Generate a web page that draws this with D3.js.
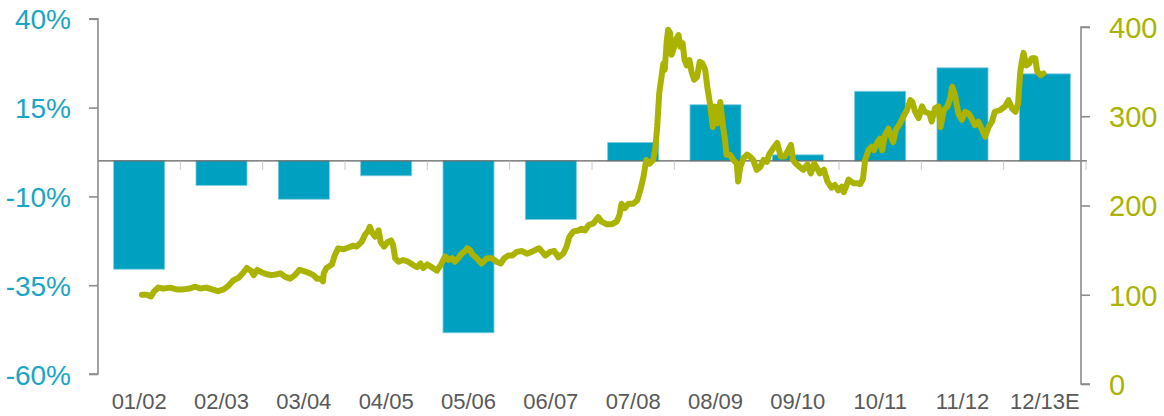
<!DOCTYPE html>
<html>
<head>
<meta charset="utf-8">
<script src="https://cdn.jsdelivr.net/npm/d3@7"></script>
<style>
  html, body { margin: 0; padding: 0; background: #ffffff; }
  svg { display: block; font-family: "Liberation Sans", Arial, sans-serif; }
</style>
</head>
<body>
<svg id="chart" width="1164" height="416"></svg>
<script>
// Fiscal years shown on the category axis
const categories = ["01/02", "02/03", "03/04", "04/05", "05/06", "06/07",
                    "07/08", "08/09", "09/10", "10/11", "11/12", "12/13E"];

// Annual change (%) per fiscal year — bars, left axis
const annualChange = [-30.5, -6.9, -10.8, -4.2, -48.4, -16.5,
                      5.2, 15.8, 1.7, 19.6, 26.2, 24.5];

// Index level (right axis): month offset from start of 01/02, index value
const indexMonths = [
  6.4, 7.1, 7.7, 8.2, 8.8, 9.5, 10.5, 11.5, 12.4, 13.4, 14.1, 14.9, 15.8, 16.6, 17.5, 18.3,
  19.0, 19.7, 20.5, 21.2, 21.7, 22.3, 22.7, 23.2, 23.9, 24.6, 25.3, 26.1, 26.6, 27.3, 28.0,
  28.7, 29.4, 30.2, 30.9, 31.4, 31.9, 32.5, 32.8, 32.9, 33.3, 34.1, 34.5, 35.0, 35.8, 36.5,
  37.2, 37.7, 38.4, 38.9, 39.4, 39.6, 40.0, 40.4, 40.9, 41.2, 41.7, 42.2, 42.7, 43.0, 43.3,
  43.8, 44.5, 45.2, 46.0, 46.5, 47.0, 47.4, 48.0, 48.6, 49.4, 50.0, 50.6, 51.1, 51.6, 52.0,
  52.5, 53.0, 53.5, 53.8, 54.2, 54.6, 55.2, 55.9, 56.7, 57.4, 58.1, 58.7, 59.2, 59.8, 60.4,
  61.0, 61.8, 62.5, 63.2, 63.7, 64.3, 65.2, 65.9, 66.5, 67.1, 67.8, 68.3, 68.7, 69.3, 70.0,
  70.5, 71.0, 71.5, 72.2, 72.9, 73.4, 74.1, 74.9, 75.6, 76.0, 76.3, 76.8, 77.3, 78.0, 78.6,
  79.1, 79.5, 79.9, 80.4, 80.9, 81.2, 81.5, 81.8, 82.2, 82.4, 82.6, 82.9, 83.1, 83.4, 83.6,
  84.0, 84.2, 84.6, 84.9, 85.2, 85.5, 85.8, 86.2, 86.5, 86.9, 87.3, 87.7, 88.1, 88.5, 88.8,
  89.2, 89.6, 89.9, 90.3, 90.7, 91.1, 91.4, 91.6, 92.1, 92.6, 93.1, 93.3, 93.6, 94.1, 94.6,
  95.0, 95.5, 96.0, 96.5, 97.0, 97.5, 97.8, 98.4, 99.0, 99.5, 100.1, 100.6, 101.0, 101.3,
  101.7, 102.3, 102.8, 103.4, 103.9, 104.4, 104.8, 105.2, 105.8, 106.3, 106.9, 107.4, 107.9,
  108.4, 108.7, 109.4, 110.1, 110.6, 111.1, 111.5, 111.8, 112.3, 112.8, 113.1, 113.6, 114.0,
  114.3, 114.7, 115.2, 115.5, 115.9, 116.3, 116.9, 117.4, 117.9, 118.4, 118.7, 119.1, 119.6,
  120.1, 120.5, 121.2, 121.5, 122.0, 122.5, 122.8, 123.3, 123.8, 124.2, 124.5, 124.9, 125.4,
  125.9, 126.4, 126.9, 127.3, 127.8, 128.3, 128.8, 129.3, 129.8, 130.3, 130.7, 131.5, 132.2,
  132.7, 133.2, 133.7, 134.1, 134.4, 134.6, 134.9, 135.3, 135.7, 136.1, 136.6, 136.9, 137.4,
  137.8
];
const indexValues = [
  100, 100, 98, 104, 108, 107, 108, 106, 106, 107, 109, 107, 108, 106, 104, 106,
  110, 116, 119, 125, 130, 127, 122, 128, 125, 123, 122, 123, 124, 120, 118,
  122, 128, 126, 124, 122, 118, 118, 115, 124, 130, 134, 144, 152, 151, 153,
  155, 154, 159, 167, 172, 176, 169, 165, 172, 159, 154, 159, 161, 156, 141,
  137, 139, 137, 133, 131, 135, 130, 134, 131, 127, 134, 143, 139, 141, 137,
  141, 146, 149, 152, 150, 145, 141, 135, 141, 141, 137, 135, 141, 144, 144,
  148, 149, 146, 148, 150, 152, 144, 148, 149, 142, 146, 154, 165, 171, 172,
  174, 172, 178, 180, 187, 182, 179, 179, 182, 189, 202, 197, 202, 202, 206,
  219, 232, 251, 247, 251, 262, 288, 326, 348, 359, 352, 385, 397, 393, 369,
  378, 385, 391, 378, 382, 363, 357, 363, 350, 341, 344, 361, 359, 352, 333,
  314, 288, 311, 292, 316, 288, 273, 257, 257, 251, 247, 227, 243, 253, 257,
  255, 251, 240, 243, 251, 249, 257, 264, 270, 255, 255, 262, 268, 251,
  247, 243, 240, 246, 236, 247, 242, 236, 240, 227, 220, 223, 217,
  221, 215, 229, 225, 225, 224, 230, 251, 262, 266, 262, 271, 275,
  262, 279, 286, 279, 271, 285, 292, 300, 307, 318, 316, 305, 298,
  311, 305, 303, 294, 309, 311, 288, 307, 311, 320, 333, 324, 303,
  296, 305, 303, 298, 290, 294, 286, 277, 288, 294, 305, 307, 311,
  318, 309, 305, 314, 348, 359, 371, 357, 359, 365, 365, 350, 346,
  348
];

const leftTicks = [-60, -35, -10, 15, 40];
const rightTicks = [0, 100, 200, 300, 400];

const barColor = "#00A1C0";
const lineColor = "#A9B300";
const leftLabelColor = "#1AA5C4";
const rightLabelColor = "#A9B300";
const catLabelColor = "#595959";
const axisGray = "#8C8C8C";

const svg = d3.select("#chart");

// Scales
const xBand = d3.scaleBand().domain(categories).range([98, 1086])
  .paddingInner(0.38).paddingOuter(0.19);
const xMonths = d3.scaleLinear().domain([0, 144]).range([98, 1086]);
const yLeft = d3.scaleLinear().domain([-60, 40]).range([374, 18.8]);
const yRight = d3.scaleLinear().domain([0, 400]).range([384, 27]);

// Bars
svg.append("g").selectAll("rect")
  .data(categories.map((c, i) => ({ c, v: annualChange[i] })))
  .join("rect")
  .attr("x", d => xBand(d.c))
  .attr("width", xBand.bandwidth())
  .attr("y", d => yLeft(Math.max(0, d.v)))
  .attr("height", d => Math.abs(yLeft(d.v) - yLeft(0)))
  .attr("fill", barColor)
  .attr("stroke", "#7fcde0")
  .attr("stroke-width", 0.8);

// Category axis along the zero line
const y0 = yLeft(0);
const catAxis = svg.append("g").attr("transform", `translate(0,${y0})`);
catAxis.append("line")
  .attr("x1", 98).attr("x2", 1087).attr("y1", 0).attr("y2", 0)
  .attr("stroke", "#5f5f5f").attr("stroke-width", 1.2);
catAxis.selectAll("line.tick")
  .data(categories.slice(1).concat(["end"]))
  .join("line").attr("class", "tick")
  .attr("x1", (d, i) => xBand.range()[0] + xBand.step() * (i + 1))
  .attr("x2", (d, i) => xBand.range()[0] + xBand.step() * (i + 1))
  .attr("y1", 0).attr("y2", 9)
  .attr("stroke", "#c8c8c8").attr("stroke-width", 1);

// Category labels at the bottom
svg.append("g").selectAll("text")
  .data(categories)
  .join("text")
  .attr("x", d => xBand(d) + xBand.bandwidth() / 2)
  .attr("y", 409)
  .attr("text-anchor", "middle")
  .attr("font-size", 22)
  .attr("fill", catLabelColor)
  .text(d => d);

// Left axis
const leftAxis = d3.axisLeft(yLeft).tickValues(leftTicks)
  .tickSize(9).tickPadding(18).tickFormat(d => d + "%");
const gl = svg.append("g").attr("transform", "translate(98,0)").call(leftAxis);
gl.select(".domain").attr("stroke", axisGray).attr("stroke-width", 1.6)
  .attr("d", `M-9,${yLeft(40)}H0V${yLeft(-60)}H-9`);
gl.selectAll(".tick line").attr("stroke", axisGray).attr("stroke-width", 1.6);
gl.selectAll(".tick text").attr("fill", leftLabelColor)
  .attr("font-size", 28).attr("font-family", "Liberation Sans, Arial, sans-serif")
  .attr("dy", "0.36em");

// Right axis
const rightAxis = d3.axisRight(yRight).tickValues(rightTicks)
  .tickSize(9).tickPadding(19).tickFormat(d3.format("d"));
const gr = svg.append("g").attr("transform", "translate(1081,0)").call(rightAxis);
gr.select(".domain").attr("stroke", axisGray).attr("stroke-width", 1.6)
  .attr("d", `M9,${yRight(400)}H0V${yRight(0)}H9`);
gr.selectAll(".tick line").attr("stroke", axisGray).attr("stroke-width", 1.6);
gr.selectAll(".tick text").attr("fill", rightLabelColor)
  .attr("font-size", 29).attr("font-family", "Liberation Sans, Arial, sans-serif")
  .attr("dy", "0.36em");

// Index line
const line = d3.line()
  .x((d, i) => xMonths(indexMonths[i]))
  .y(d => yRight(d))
  .curve(d3.curveLinear);
svg.append("path")
  .datum(indexValues)
  .attr("d", line)
  .attr("fill", "none")
  .attr("stroke", lineColor)
  .attr("stroke-width", 6)
  .attr("stroke-linejoin", "round")
  .attr("stroke-linecap", "round");
</script>
</body>
</html>
